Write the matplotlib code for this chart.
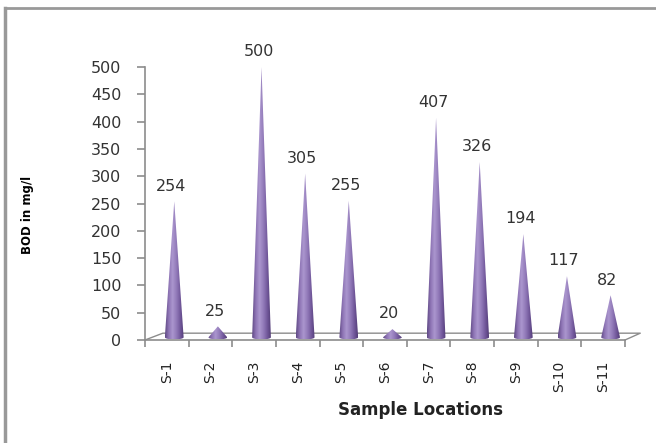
import numpy as np
import matplotlib
matplotlib.use("Agg")
import matplotlib.pyplot as plt
from matplotlib.colors import LinearSegmentedColormap
from matplotlib.path import Path
from matplotlib.patches import PathPatch
from matplotlib.lines import Line2D

# data
locations = ["S-1", "S-2", "S-3", "S-4", "S-5", "S-6", "S-7", "S-8", "S-9", "S-10", "S-11"]
bod = [254, 25, 500, 305, 255, 20, 407, 326, 194, 117, 82]
y_ticks = [0, 50, 100, 150, 200, 250, 300, 350, 400, 450, 500]

W, H = 656, 443
fig = plt.figure(figsize=(W / 100, H / 100), dpi=100)
ax = fig.add_axes([145 / W, (H - 340) / H, (625 - 145) / W, (340 - 67) / H])
ax.set_xlim(0, len(locations))
ax.set_ylim(0, 500)

grey = "#8c8c8c"
for s in ["top", "right"]:
    ax.spines[s].set_visible(False)
for s in ["left", "bottom"]:
    ax.spines[s].set_color(grey)
    ax.spines[s].set_linewidth(1.2)

# 3d floor outline
depth_x, depth_y = 0.41, 12.5
ax.plot([0, depth_x, len(locations) + 0.35, len(locations)],
        [0, depth_y, depth_y, 0], color=grey, lw=1.0, clip_on=False)

# cone shading
cmap = LinearSegmentedColormap.from_list(
    "cone", ["#5e4884", "#8e74b5", "#ab96ce", "#937bba", "#73599c", "#533d77"])
grad = np.linspace(0, 1, 256).reshape(1, -1)

half_w = 0.215
ell_h = 4.0
shift = 0.17
base_y = 5.0
for i, v in enumerate(bod):
    cx = i + 0.5 + shift
    t = np.linspace(np.pi, 2 * np.pi, 30)
    arc = np.column_stack([cx + half_w * np.cos(t), base_y + ell_h * np.sin(t)])
    verts = np.vstack([[[cx - half_w, base_y]], arc, [[cx + half_w, base_y], [cx, v], [cx - half_w, base_y]]])
    patch = PathPatch(Path(verts), facecolor="none", edgecolor="none", transform=ax.transData)
    ax.add_patch(patch)
    im = ax.imshow(grad, cmap=cmap, aspect="auto",
                   extent=[cx - half_w, cx + half_w, base_y - ell_h, v],
                   origin="lower", zorder=3)
    im.set_clip_path(patch)
    ax.text(i + 0.5 + 0.1, v + 14, str(v), ha="center", va="bottom",
            fontsize=11.5, color="#333333", clip_on=False, zorder=5)

ax.set_xlim(0, len(locations))
ax.set_ylim(0, 500)

ax.set_yticks(y_ticks)
ax.tick_params(axis="y", direction="out", length=6, width=1.2, color=grey,
               pad=11, labelsize=11.5, labelcolor="#333333")

ax.set_xticks(np.arange(len(locations) + 1))
ax.set_xticklabels([])
ax.set_xticks(np.arange(len(locations)) + 0.5, minor=True)
ax.set_xticklabels(locations, minor=True, rotation=90, fontsize=10)
ax.tick_params(axis="x", which="major", direction="out", length=5, width=1.2, color=grey)
ax.tick_params(axis="x", which="minor", length=0, pad=15, labelcolor="#222222")

fig.text(28 / W, 1 - 215 / H, "BOD in mg/l", rotation=90, ha="center", va="center",
         fontsize=8.5, fontweight="bold")
fig.text(421 / W, 1 - 410 / H, "Sample Locations", ha="center", va="center",
         fontsize=12, fontweight="bold", color="#222222")

# chart frame (top and left edges)
fig.add_artist(Line2D([5 / W, 1], [1 - 8 / H, 1 - 8 / H], color="#999999", lw=2,
                      transform=fig.transFigure))
fig.add_artist(Line2D([5 / W, 5 / W], [0, 1 - 8 / H], color="#999999", lw=2.5,
                      transform=fig.transFigure))

fig.savefig("out.png", dpi=100)
